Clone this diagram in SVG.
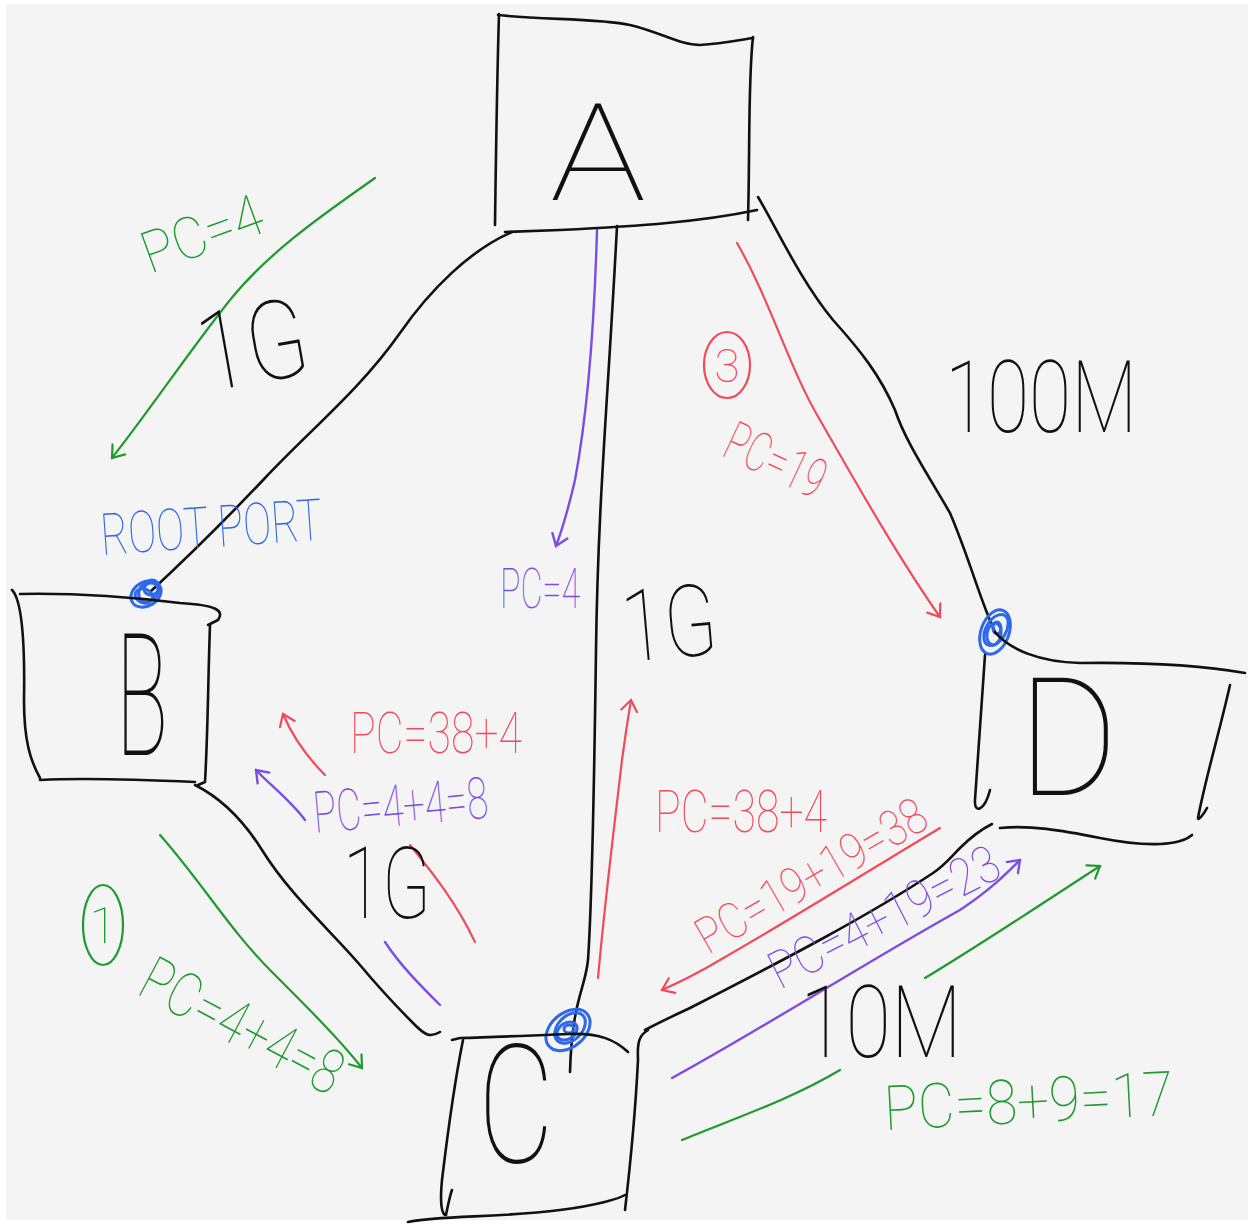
<svg xmlns="http://www.w3.org/2000/svg" width="1254" height="1224" viewBox="0 0 1254 1224">
<defs>
<style>
.ink{fill:none;stroke:#111;stroke-width:2.6;stroke-linecap:round;stroke-linejoin:round}
.g{fill:none;stroke:#1f9a2e;stroke-width:2.2;stroke-linecap:round;stroke-linejoin:round}
.r{fill:none;stroke:#f24a5c;stroke-width:2.2;stroke-linecap:round;stroke-linejoin:round}
.p{fill:none;stroke:#7b4ee3;stroke-width:2.4;stroke-linecap:round;stroke-linejoin:round}
.b{fill:none;stroke:#2f68e8;stroke-width:3}
text{font-family:"Roboto","Lato","Liberation Sans",sans-serif;font-weight:100}
.tk{fill:#111}
.tg{fill:#1f9a2e}
.tr{fill:#f24a5c}
.tp{fill:#7b4ee3}
.tb{fill:#2f68e8}
</style>
<marker id="mg" viewBox="-12 -10 14 20" refX="0" refY="0" markerWidth="14" markerHeight="20" markerUnits="userSpaceOnUse" orient="auto"><path d="M-11,-8 L0,0 L-11,8" fill="none" stroke="#1f9a2e" stroke-width="2.2" stroke-linecap="round"/></marker>
<marker id="mr" viewBox="-12 -10 14 20" refX="0" refY="0" markerWidth="14" markerHeight="20" markerUnits="userSpaceOnUse" orient="auto"><path d="M-11,-8 L0,0 L-11,8" fill="none" stroke="#f24a5c" stroke-width="2.2" stroke-linecap="round"/></marker>
<marker id="mp" viewBox="-12 -10 14 20" refX="0" refY="0" markerWidth="14" markerHeight="20" markerUnits="userSpaceOnUse" orient="auto"><path d="M-11,-8 L0,0 L-11,8" fill="none" stroke="#7b4ee3" stroke-width="2.4" stroke-linecap="round"/></marker>
</defs>
<rect x="0" y="0" width="1254" height="1224" fill="#ffffff"/>
<rect x="6" y="4" width="1242" height="1216" fill="#f4f4f4"/>

<g id="connectors">
<path id="edge-A-B" class="ink" d="M512,232 C470,250 430,290 400,333 C360,390 310,430 265,478 C230,515 190,555 150,592"/>
<path id="edge-A-C" class="ink" d="M617,226 C608,400 598,500 596,650 C594,800 592,900 588,960 C585,990 572,1000 570,1072"/>
<path id="edge-A-D" class="ink" d="M758,197 C775,225 800,280 833,320 C860,350 880,375 895,410 C905,440 925,470 950,513 C970,560 980,600 995,632"/>
<path id="edge-B-C" class="ink" d="M195,785 C215,795 240,815 262,850 C290,895 330,930 360,965 C385,995 400,1010 415,1025 C425,1035 430,1038 440,1032"/>
<path id="edge-C-D" class="ink" d="M645,1030 C660,1022 675,1015 690,1008 C780,962 870,915 933,873 C945,865 950,858 960,848 C970,838 980,830 992,824"/>

<path class="g" d="M375,178 C330,210 270,250 230,300 C190,350 150,410 112,458" marker-end="url(#mg)"/>
<path class="p" d="M597,230 C595,300 590,400 575,480 C568,510 562,530 556,546" marker-end="url(#mp)"/>
<path class="r" d="M737,243 C770,300 790,370 820,420 C860,490 900,560 940,617" marker-end="url(#mr)"/>
<path class="r" d="M325,775 C305,755 292,735 283,714" marker-end="url(#mr)"/>
<path class="p" d="M305,820 C290,800 270,785 256,770" marker-end="url(#mp)"/>
<path class="r" d="M410,845 C430,870 455,900 475,942"/>
<path class="p" d="M385,942 C400,965 420,985 440,1005"/>
<path class="g" d="M160,835 C200,880 230,930 270,970 C310,1010 340,1040 362,1068" marker-end="url(#mg)"/>
<path class="r" d="M598,978 C605,900 615,820 622,760 C626,730 629,712 631,700" marker-end="url(#mr)"/>
<path class="r" d="M940,828 C870,870 790,920 720,960 C700,972 680,982 662,990" marker-end="url(#mr)"/>
<path class="p" d="M672,1078 C760,1030 870,960 960,910 C990,890 1005,875 1020,860" marker-end="url(#mp)"/>
<path class="g" d="M925,978 C980,945 1040,905 1100,866" marker-end="url(#mg)"/>
<path class="g" d="M682,1140 C730,1120 790,1100 840,1070"/>

<g id="port-B">
<ellipse class="b" cx="146" cy="594" rx="16" ry="12" transform="rotate(-30 146 594)"/>
<ellipse class="b" cx="149" cy="591" rx="12" ry="9" transform="rotate(-50 149 591)"/>
<ellipse class="b" cx="151" cy="589" rx="7" ry="6"/>
<ellipse class="b" cx="144" cy="596" rx="9" ry="7" transform="rotate(20 144 596)"/>
</g>
<g id="port-D">
<ellipse class="b" cx="995" cy="632" rx="14" ry="23" transform="rotate(20 995 632)"/>
<ellipse class="b" cx="996" cy="630" rx="10" ry="17" transform="rotate(30 996 630)"/>
<ellipse class="b" cx="994" cy="634" rx="7" ry="11" transform="rotate(10 994 634)"/>
<ellipse class="b" cx="997" cy="628" rx="4" ry="6"/>
</g>
<g id="port-C">
<ellipse class="b" cx="568" cy="1030" rx="25" ry="17" transform="rotate(-40 568 1030)"/>
<ellipse class="b" cx="570" cy="1028" rx="18" ry="12" transform="rotate(-45 570 1028)"/>
<ellipse class="b" cx="567" cy="1031" rx="11" ry="8" transform="rotate(-35 567 1031)"/>
<ellipse class="b" cx="569" cy="1029" rx="5" ry="4"/>
</g>
</g>

<g id="node-A">
<path class="ink" d="M498,15 C540,20 600,18 630,25 C660,32 680,45 700,45 C720,44 740,40 753,38"/>
<path class="ink" d="M753,37 C748,80 750,150 748,220"/>
<path class="ink" d="M499,14 C497,80 496,150 495,225"/>
<path class="ink" d="M505,232 L560,230 C640,226 700,222 757,210"/>
<text class="tk" x="550" y="200" font-size="135" textLength="96" lengthAdjust="spacingAndGlyphs">A</text>
</g>

<g id="node-B">
<path class="ink" d="M20,594 C70,593 130,597 180,603 C215,605 225,610 218,620 L208,625"/>
<path class="ink" d="M12,590 C22,600 25,640 24,700 C24,740 30,760 40,778"/>
<path class="ink" d="M40,780 C80,778 150,780 195,782"/>
<path class="ink" d="M210,625 C208,680 208,730 205,782 L198,785"/>
<text class="tk" x="116" y="755" font-size="170" textLength="52" lengthAdjust="spacingAndGlyphs">B</text>
</g>

<g id="node-C">
<path class="ink" d="M452,1040 L460,1038 C500,1037 540,1035 570,1034 C600,1033 615,1040 628,1052"/>
<path class="ink" d="M463,1040 C455,1080 448,1130 442,1180 C440,1200 441,1215 446,1215 C448,1205 450,1195 452,1190"/>
<path class="ink" d="M408,1222 C440,1215 500,1218 560,1210 C600,1205 620,1198 625,1195"/>
<path class="ink" d="M648,1030 C640,1035 637,1040 638,1060 C636,1100 632,1150 625,1210"/>
<text class="tk" x="478" y="1162" font-size="165" textLength="76" lengthAdjust="spacingAndGlyphs">C</text>
</g>

<g id="node-D">
<path class="ink" d="M995,632 C1010,650 1040,662 1080,663 C1150,662 1200,665 1245,673"/>
<path class="ink" d="M985,655 C982,700 978,750 975,800 C974,815 985,810 990,790"/>
<path class="ink" d="M1230,685 C1220,730 1205,780 1198,818 C1198,822 1205,812 1207,808"/>
<path class="ink" d="M1000,828 C1030,825 1060,830 1100,838 C1150,848 1180,845 1192,835"/>
<text class="tk" x="1018" y="795" font-size="165" textLength="100" lengthAdjust="spacingAndGlyphs">D</text>
</g>

<g id="labels">
<text class="tg" x="150" y="274" font-size="58" textLength="125" lengthAdjust="spacingAndGlyphs" transform="rotate(-20 150 274)">PC=4</text>
<text class="tk" x="205" y="392" font-size="110" textLength="110" lengthAdjust="spacingAndGlyphs" transform="rotate(-10 205 392)">1G</text>
<text class="tp" x="500" y="608" font-size="55" textLength="80" lengthAdjust="spacingAndGlyphs">PC=4</text>
<text class="tk" x="625" y="662" font-size="100" textLength="95" lengthAdjust="spacingAndGlyphs" transform="rotate(-5 625 662)">1G</text>
<ellipse cx="727" cy="365" rx="23" ry="33" fill="none" stroke="#f24a5c" stroke-width="2.2"/>
<text class="tr" x="727" y="382" font-size="46" text-anchor="middle">3</text>
<text class="tr" x="720" y="455" font-size="55" textLength="105" lengthAdjust="spacingAndGlyphs" transform="rotate(25 720 455)">PC=19</text>
<text class="tk" x="945" y="432" font-size="100" textLength="192" lengthAdjust="spacingAndGlyphs">100M</text>
<text class="tb" x="102" y="555" font-size="58" textLength="222" lengthAdjust="spacingAndGlyphs" transform="rotate(-4 102 555)">ROOT PORT</text>
<text class="tr" x="350" y="753" font-size="58" textLength="172" lengthAdjust="spacingAndGlyphs">PC=38+4</text>
<text class="tp" x="315" y="833" font-size="58" textLength="175" lengthAdjust="spacingAndGlyphs" transform="rotate(-5 315 833)">PC=4+4=8</text>
<text class="tk" x="343" y="918" font-size="100" textLength="88" lengthAdjust="spacingAndGlyphs">1G</text>
<ellipse cx="103" cy="925" rx="20" ry="40" fill="none" stroke="#1f9a2e" stroke-width="2.2"/>
<text class="tg" x="103" y="943" font-size="50" text-anchor="middle">1</text>
<text class="tg" x="135" y="993" font-size="62" textLength="220" lengthAdjust="spacingAndGlyphs" transform="rotate(28 135 993)">PC=4+4=8</text>
<text class="tr" x="655" y="832" font-size="60" textLength="172" lengthAdjust="spacingAndGlyphs">PC=38+4</text>
<text class="tr" x="708" y="955" font-size="50" textLength="258" lengthAdjust="spacingAndGlyphs" transform="rotate(-30 708 955)">PC=19+19=38</text>
<text class="tp" x="780" y="990" font-size="52" textLength="252" lengthAdjust="spacingAndGlyphs" transform="rotate(-27 780 990)">PC=4+19=23</text>
<text class="tk" x="800" y="1057" font-size="100" textLength="162" lengthAdjust="spacingAndGlyphs">10M</text>
<text class="tg" x="885" y="1130" font-size="62" textLength="290" lengthAdjust="spacingAndGlyphs" transform="rotate(-3 885 1130)">PC=8+9=17</text>
</g>
</svg>
